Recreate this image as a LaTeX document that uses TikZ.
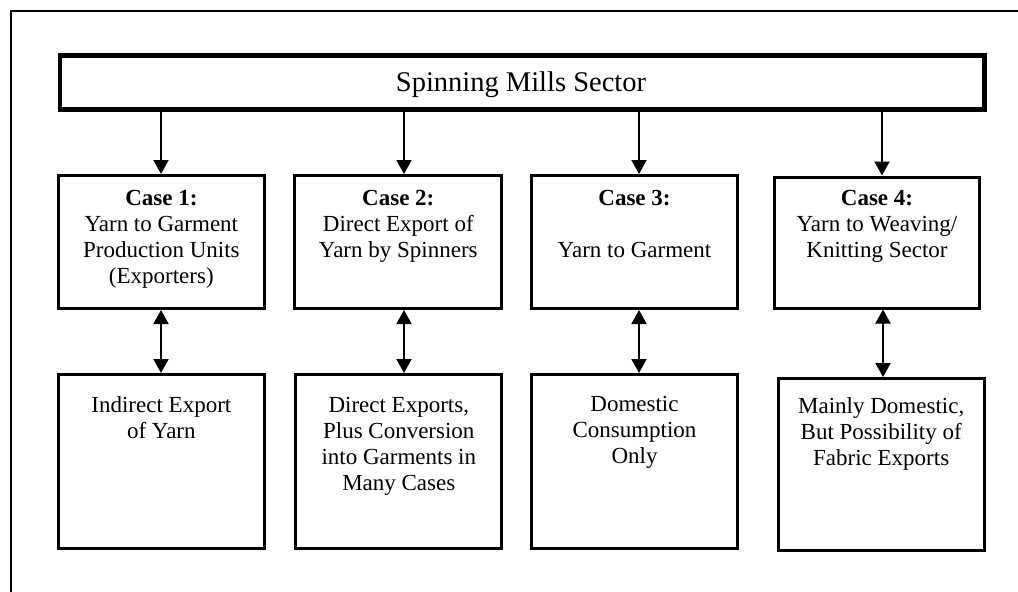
\documentclass[tikz,border=0pt]{standalone}
\usepackage{fontspec}
\setmainfont{Liberation Serif}
\usetikzlibrary{arrows.meta}
\begin{document}
\begin{tikzpicture}[x=1pt,y=-1pt,
  frame/.style={line width=2pt},
  topbox/.style={draw, line width=4.5pt, rectangle, inner sep=0pt, outer sep=0pt},
  casebox/.style={draw, line width=3pt, rectangle, inner sep=0pt, outer sep=0pt},
  toptxt/.style={anchor=base, inner sep=0pt, font=\fontsize{28.5}{33}\selectfont},
  txt/.style={anchor=north, inner sep=0pt, align=center, font=\fontsize{23}{26}\selectfont},
  arr/.style={line width=2pt, shorten >=1.5pt, -{Triangle[width=15pt,length=14pt]}},
  darr/.style={line width=2pt, shorten >=1.5pt, shorten <=1.5pt, {Triangle[width=15pt,length=14pt]}-{Triangle[width=15pt,length=14pt]}}
]
\useasboundingbox (0,0) rectangle (1018,592);
% outer frame (cut at right and bottom)
\draw[frame] (1018,11.2) -- (11.2,11.2) -- (11.2,592);

% top box
\node[topbox, minimum width=924.5pt, minimum height=54pt] (top) at (522.25,82.5) {};
\node[toptxt] (toptext) at (521,91.5) {Spinning Mills Sector};

% case boxes
\node[casebox, minimum width=206.3pt, minimum height=133pt] (c1) at (161.35,242) {};
\node[casebox, minimum width=207pt, minimum height=133pt] (c2) at (398.3,242) {};
\node[casebox, minimum width=206pt, minimum height=133pt] (c3) at (634.5,242) {};
\node[casebox, minimum width=205pt, minimum height=131pt] (c4) at (877,242.5) {};

% outcome boxes
\node[casebox, minimum width=206.3pt, minimum height=174pt] (d1) at (161.35,461.5) {};
\node[casebox, minimum width=206pt, minimum height=174pt] (d2) at (398.8,461.5) {};
\node[casebox, minimum width=206pt, minimum height=174pt] (d3) at (634.5,461.5) {};
\node[casebox, minimum width=206pt, minimum height=172pt] (d4) at (881.2,464.5) {};

% texts
\node[txt] (t1) at (c1.north |- 0,188.5) {\rule{0pt}{17pt}\textbf{Case 1:}\\Yarn to Garment\\Production Units\\(Exporters)};
\node[txt] (t2) at (c2.north |- 0,188.5) {\rule{0pt}{17pt}\textbf{Case 2:}\\Direct Export of\\Yarn by Spinners};
\node[txt] (t3) at (c3.north |- 0,188) {\rule{0pt}{17pt}\textbf{Case 3:}\\[26pt]Yarn to Garment};
\node[txt] (t4) at (c4.north |- 0,188.7) {\rule{0pt}{17pt}\textbf{Case 4:}\\Yarn to Weaving/\\Knitting Sector};

\node[txt] (u1) at (d1.north |- 0,395) {\rule{0pt}{17pt}Indirect Export\\of Yarn};
\node[txt] (u2) at (d2.north |- 0,395) {\rule{0pt}{17pt}Direct Exports,\\Plus Conversion\\into Garments in\\Many Cases};
\node[txt] (u3) at (d3.north |- 0,394) {\rule{0pt}{17pt}Domestic\\Consumption\\Only};
\node[txt] (u4) at (d4.north |- 0,396) {\rule{0pt}{17pt}Mainly Domestic,\\But Possibility of\\Fabric Exports};

% connector x positions
\coordinate (a1) at (161,0);
\coordinate (a2) at (404,0);
\coordinate (a3) at (639,0);
\coordinate (a4) at (882,0);
\coordinate (b4) at (883,0);

\draw[arr] (top.south -| a1) -- (c1.north -| a1);
\draw[arr] (top.south -| a2) -- (c2.north -| a2);
\draw[arr] (top.south -| a3) -- (c3.north -| a3);
\draw[arr] (top.south -| a4) -- (c4.north -| a4);

\draw[darr] (c1.south -| a1) -- (d1.north -| a1);
\draw[darr] (c2.south -| a2) -- (d2.north -| a2);
\draw[darr] (c3.south -| a3) -- (d3.north -| a3);
\draw[darr] (c4.south -| b4) -- (d4.north -| b4);
\end{tikzpicture}
\end{document}
